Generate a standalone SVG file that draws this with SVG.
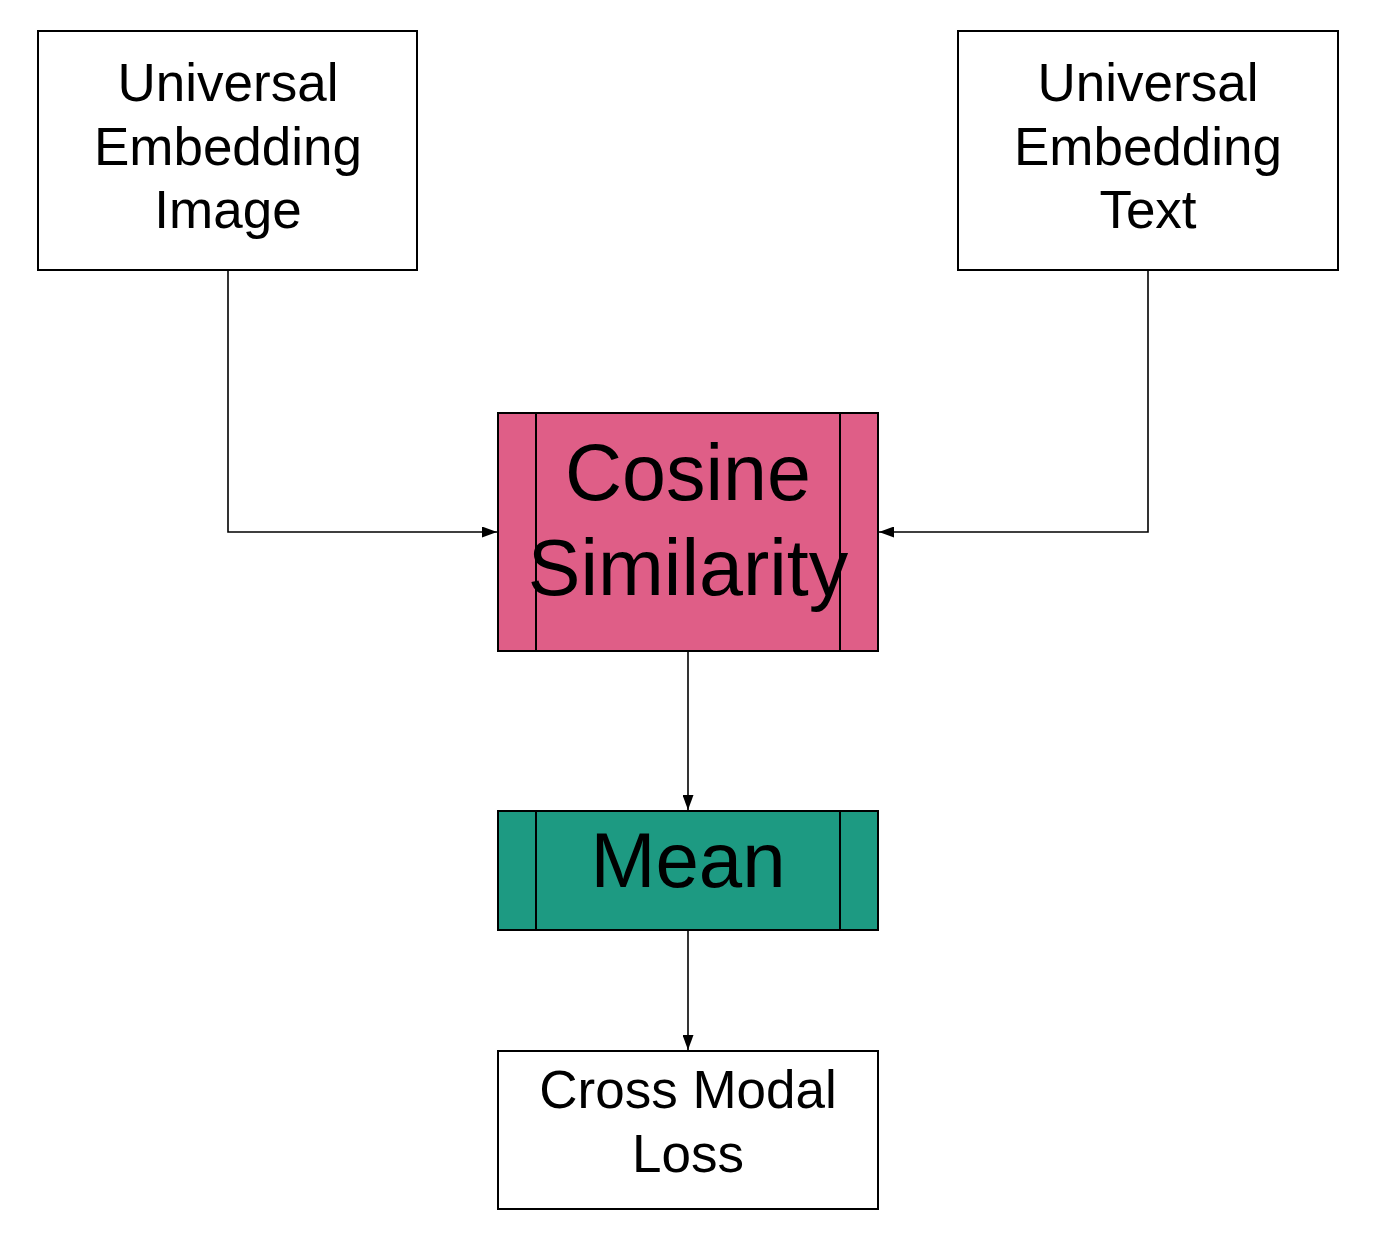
<svg xmlns="http://www.w3.org/2000/svg" width="1377" height="1244" viewBox="0 0 1377 1244">
<style>
.box{stroke:#000;stroke-width:2}
.lbl{font-family:"Liberation Sans",Arial,sans-serif;fill:#000;text-anchor:middle}
.edge{fill:none;stroke:#000;stroke-width:1.6}
</style>
<defs>
<marker id="ah" viewBox="0 0 15 11" refX="15" refY="5.5" markerWidth="15" markerHeight="11" markerUnits="userSpaceOnUse" orient="auto">
<path d="M0,0 L15,5.5 L0,11 Z" fill="#000"/>
</marker>
</defs>
<rect width="1377" height="1244" fill="#fff"/>
<g id="connectors">
<path class="edge" d="M228,270 V532 H497" marker-end="url(#ah)"/>
<path class="edge" d="M1148,270 V532 H879" marker-end="url(#ah)"/>
<path class="edge" d="M688,651 V810" marker-end="url(#ah)"/>
<path class="edge" d="M688,930 V1050" marker-end="url(#ah)"/>
</g>
<g id="node-image">
<rect class="box" x="38" y="31" width="379" height="239" fill="#fff"/>
<text class="lbl" font-size="53" x="228" y="101">Universal</text>
<text class="lbl" font-size="53" x="228" y="165">Embedding</text>
<text class="lbl" font-size="53" x="228" y="228">Image</text>
</g>
<g id="node-text">
<rect class="box" x="958" y="31" width="380" height="239" fill="#fff"/>
<text class="lbl" font-size="53" x="1148" y="101">Universal</text>
<text class="lbl" font-size="53" x="1148" y="165">Embedding</text>
<text class="lbl" font-size="53" x="1148" y="228">Text</text>
</g>
<g id="node-cosine">
<rect class="box" x="498" y="413" width="380" height="238" fill="#DF5E87"/>
<line class="box" x1="536" y1="413" x2="536" y2="651"/>
<line class="box" x1="840" y1="413" x2="840" y2="651"/>
<text class="lbl" font-size="79" x="688" y="500">Cosine</text>
<text class="lbl" font-size="79" x="688" y="595">Similarity</text>
</g>
<g id="node-mean">
<rect class="box" x="498" y="811" width="380" height="119" fill="#1D9A82"/>
<line class="box" x1="536" y1="811" x2="536" y2="930"/>
<line class="box" x1="840" y1="811" x2="840" y2="930"/>
<text class="lbl" font-size="78" x="688" y="887">Mean</text>
</g>
<g id="node-loss">
<rect class="box" x="498" y="1051" width="380" height="158" fill="#fff"/>
<text class="lbl" font-size="53" x="688" y="1108">Cross Modal</text>
<text class="lbl" font-size="53" x="688" y="1172">Loss</text>
</g>
</svg>
